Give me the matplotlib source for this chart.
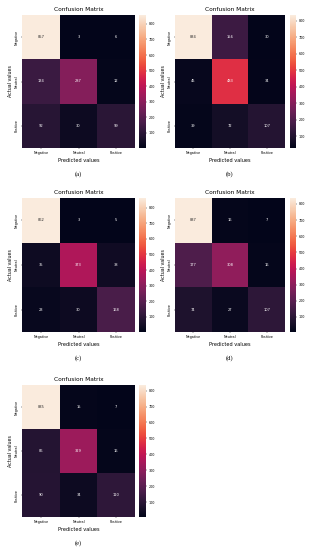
import numpy as np
import seaborn as sns
from matplotlib import pyplot as plt

labels = ['Negative', 'Neutral', 'Positive']
captions = ['(a)', '(b)', '(c)', '(d)', '(e)']

cm_a = [[857, 3, 6], [134, 287, 12], [92, 30, 99]]
cm_b = [[834, 156, 30], [45, 483, 34], [39, 72, 107]]
cm_c = [[862, 3, 5], [35, 373, 38], [23, 30, 168]]
cm_d = [[837, 16, 7], [177, 308, 16], [74, 27, 107]]
cm_e = [[835, 15, 7], [86, 329, 16], [90, 34, 110]]
matrices = [cm_a, cm_b, cm_c, cm_d, cm_e]

W, H = 317, 550
fig = plt.figure(figsize=(W / 100, H / 100), dpi=100)

# pixel boxes: (left, width) of heatmap, colorbar left/width
cols = [(22, 113, 139, 7), (175, 110, 290, 6)]
rows = [(15, 133), (198, 134), (385, 132)]


def px(l, t, w, h):
    return [l / W, 1 - (t + h) / H, w / W, h / H]


for k, cm in enumerate(matrices):
    r, c = divmod(k, 2)
    left, width, cb_left, cb_w = cols[c]
    top, height = rows[r]
    ax = fig.add_axes(px(left, top, width, height))
    cax = fig.add_axes(px(cb_left, top, cb_w, height))
    sns.heatmap(np.array(cm), annot=True, fmt='d', ax=ax, cbar_ax=cax,
                xticklabels=labels, yticklabels=labels,
                annot_kws={'fontsize': 2.6})
    ax.set_title('Confusion Matrix', fontsize=4.2, pad=3)
    ax.set_xlabel('Predicted values', fontsize=3.6, labelpad=1.5)
    ax.set_ylabel('Actual values', fontsize=3.4, labelpad=1)
    ax.tick_params(axis='both', labelsize=2.4, length=1, width=0.3, pad=1.5)
    ax.set_xticklabels(labels, rotation=0)
    ax.set_yticklabels(labels, rotation=90, va='center')
    cax.tick_params(labelsize=2.4, length=1, width=0.3, pad=1)
    for s in cax.spines.values():
        s.set_visible(False)
    fig.text((left + width / 2) / W, 1 - (top + height + 26) / H, captions[k],
             ha='center', va='center', fontsize=4.8, family='Liberation Serif')

plt.savefig('out.png', dpi=100)
